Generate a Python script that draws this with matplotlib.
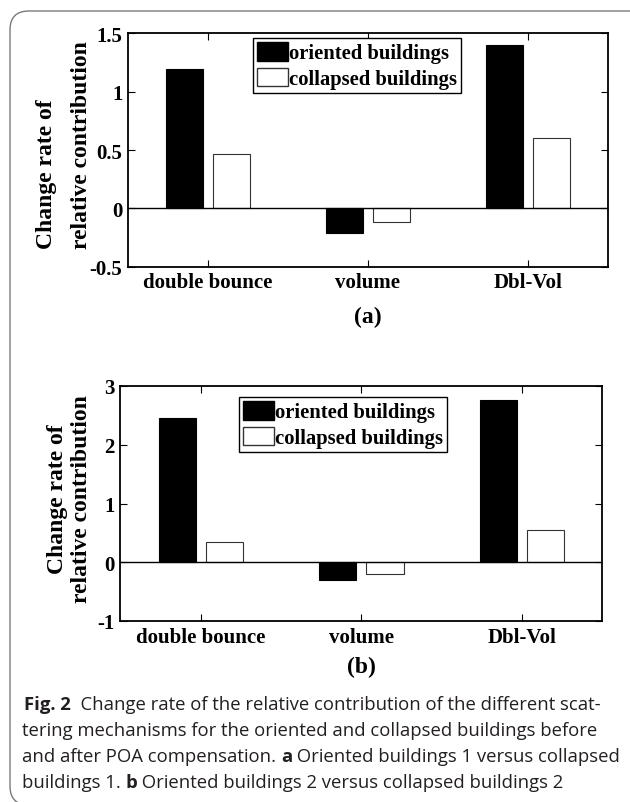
import matplotlib
matplotlib.use('Agg')
import matplotlib.pyplot as plt
from matplotlib.patches import FancyBboxPatch, Patch
from matplotlib.ticker import FuncFormatter
import numpy as np

plt.rcParams['axes.unicode_minus'] = False

# data
categories = ['double bounce', 'volume', 'Dbl-Vol']
series_names = ['oriented buildings', 'collapsed buildings']
oriented_a = [1.19, -0.21, 1.40]
collapsed_a = [0.47, -0.12, 0.60]
oriented_b = [2.46, -0.30, 2.76]
collapsed_b = [0.35, -0.20, 0.555]
yticks_a = [-0.5, 0, 0.5, 1, 1.5]
yticks_b = [-1, 0, 1, 2, 3]
panel_labels = ['(a)', '(b)']

W, H = 630, 803
fig = plt.figure(figsize=(W / 100, H / 100), dpi=100)
fig.patch.set_facecolor('white')

serif = 'Liberation Serif'


def px_axes(l, t, r, b):
    return fig.add_axes([l / W, 1 - b / H, (r - l) / W, (b - t) / H])


def draw_panel(ax, ori, col, yticks, leg_xy, label, label_y, ylab_y, lsp, malign):
    x = np.arange(1, len(categories) + 1)
    w = 0.232
    ax.bar(x - 0.147, ori, w, color='black', edgecolor='black', linewidth=0.8,
           label=series_names[0], zorder=2)
    ax.bar(x + 0.147, col, w, color='white', edgecolor='#333333', linewidth=0.8,
           label=series_names[1], zorder=2)
    ax.axhline(0, color='black', lw=1.0, zorder=3)
    ax.set_xlim(0.5, 3.5)
    ax.set_ylim(yticks[0], yticks[-1])
    ax.set_xticks(x)
    ax.set_xticklabels(categories)
    ax.set_yticks(yticks)
    ax.yaxis.set_major_formatter(FuncFormatter(lambda v, p: '%g' % v))
    ax.tick_params(direction='in', length=5, width=0.8, top=True, right=True,
                   labelsize=15, pad=4)
    for t in ax.get_xticklabels() + ax.get_yticklabels():
        t.set_fontfamily(serif)
        t.set_fontweight('bold')
    for s in ax.spines.values():
        s.set_linewidth(1.3)
    ax.set_ylabel('Change rate of\nrelative contribution', fontfamily=serif,
                  fontweight='bold', fontsize=17, linespacing=lsp,
                  multialignment=malign)
    ax.yaxis.set_label_coords(92 / W, 1 - ylab_y / H, transform=fig.transFigure)
    leg = ax.legend(handles=[Patch(facecolor='black', edgecolor='black'),
                             Patch(facecolor='white', edgecolor='#333333')],
                    labels=series_names, loc='upper left',
                    bbox_to_anchor=(leg_xy[0] / W, 1 - leg_xy[1] / H),
                    bbox_transform=fig.transFigure, borderaxespad=0,
                    fancybox=False, edgecolor='black', framealpha=1,
                    prop={'family': serif, 'weight': 'bold', 'size': 14.9},
                    handlelength=1.5, handleheight=1.0, handletextpad=0.05,
                    labelspacing=0.2, borderpad=0.2)
    leg.get_frame().set_linewidth(1.0)
    fig.text((ax.get_position().x0 + ax.get_position().x1) / 2, 1 - label_y / H,
             label, ha='center', va='center', fontfamily=serif,
             fontweight='bold', fontsize=17)


ax1 = px_axes(128, 34.3, 608, 267.7)
draw_panel(ax1, oriented_a, collapsed_a, yticks_a, (253, 39), panel_labels[0],
           317, 145.5, 1.85, 'left')

ax2 = px_axes(120.5, 387, 602.4, 622)
draw_panel(ax2, oriented_b, collapsed_b, yticks_b, (239, 398), panel_labels[1],
           667, 499, 1.2, 'center')

# card border
card = FancyBboxPatch((10 / W, 1 - 806 / H), 660 / W, 794 / H,
                      boxstyle='round,pad=0,rounding_size=0.03',
                      transform=fig.transFigure, facecolor='none',
                      edgecolor='#7a7a7a', linewidth=1.0, clip_on=False,
                      mutation_aspect=W / H)
fig.patches.append(card)

# caption with mixed bold / regular runs
cap_font = 'Open Sans'
cap_size = 13.3
cap_color = '#231f20'
caption = [
    [('Fig. 2', True), ('  Change rate of the relative contribution of the different scat-', False)],
    [('tering mechanisms for the oriented and collapsed buildings before', False)],
    [('and after POA compensation. ', False), ('a', True), (' Oriented buildings 1 versus collapsed', False)],
    [('buildings 1. ', False), ('b', True), (' Oriented buildings 2 versus collapsed buildings 2', False)],
]
cap_y = [710, 736, 762, 788]
cap_x0 = [24, 22, 22, 22]
renderer = fig.canvas.get_renderer()
for line, y, x in zip(caption, cap_y, cap_x0):
    for txt, bold in line:
        t = fig.text(x / W, 1 - y / H, txt, ha='left', va='baseline',
                     fontfamily=cap_font, fontsize=cap_size, color=cap_color,
                     fontweight='bold' if bold else 'normal')
        bb = t.get_window_extent(renderer)
        x += bb.width

fig.savefig('out.png', dpi=100)
